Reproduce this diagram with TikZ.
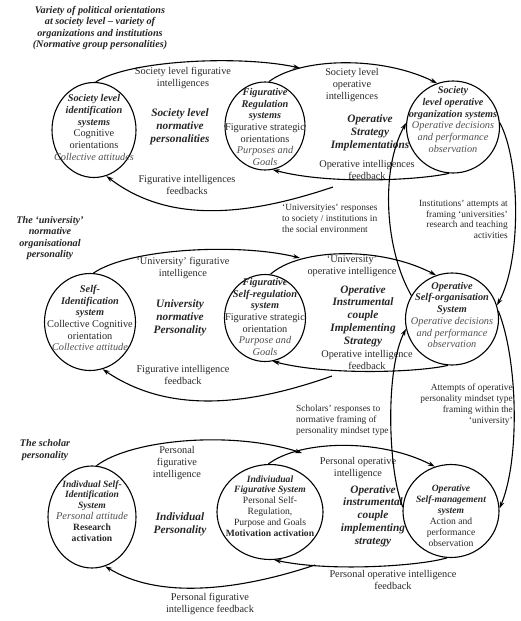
\documentclass[tikz,border=0pt]{standalone}
\usepackage{fontspec}
\setmainfont{Liberation Serif}
\usetikzlibrary{shapes.geometric,arrows.meta}
\definecolor{txt}{HTML}{282828}
\definecolor{lite}{HTML}{505050}
\newcommand\myBI[1]{{\bfseries\itshape #1}}
\newcommand\myLI[1]{{\itshape\color{lite}#1}}
\begin{document}
\begin{tikzpicture}[x=1pt,y=-1pt,
  ell/.style={draw,ellipse,line width=1.1pt,inner sep=0pt},
  conn/.style={line width=1.1pt,-{Stealth[length=7pt,width=4.5pt]}},
  lbl/.style={align=center,text=txt,font=\fontsize{10.3}{11.7}\selectfont,inner sep=0pt},
  small/.style={text=txt,font=\fontsize{9.4}{10.8}\selectfont,inner sep=0pt},
  ctext/.style={align=center,text=txt,font=\fontsize{10.3}{11.7}\selectfont,inner sep=0pt},
  ctexts/.style={align=center,text=txt,font=\fontsize{9.6}{10.9}\selectfont,inner sep=0pt},
  big/.style={align=center,text=black!85,font=\fontsize{11.3}{12.8}\selectfont\bfseries\itshape,inner sep=0pt},
  ttl/.style={align=center,text=black!85,font=\fontsize{10.2}{11.4}\selectfont\bfseries\itshape,inner sep=0pt}
]
\useasboundingbox (0,0) rectangle (520,621);
\fill[white] (0,0) rectangle (520,621);

% ---------- titles ----------
\node[ttl] (t1) at (100,28) {Variety of political orientations\\ at society level -- variety of\\ organizations and institutions\\ (Normative group personalities)};
\node[ttl] (t2) at (50,238) {The ‘university’\\ normative\\ organisational\\ personality};
\node[ttl] (t3) at (45,450) {The scholar\\ personality};

% ---------- ellipses ----------
\node[ell,minimum width=84pt,minimum height=95pt] (L1) at (94,130) {};
\node[ell,minimum width=80pt,minimum height=88pt] (M1) at (265,126) {};
\node[ell,minimum width=93pt,minimum height=92pt] (R1) at (453,127) {};
\node[ell,minimum width=91pt,minimum height=97pt] (L2) at (90,322) {};
\node[ell,minimum width=81pt,minimum height=87pt] (M2) at (265,318) {};
\node[ell,minimum width=93pt,minimum height=92pt] (R2) at (452,319) {};
\node[ell,minimum width=88pt,minimum height=102pt] (L3) at (92,517) {};
\node[ell,minimum width=106pt,minimum height=95pt] (M3) at (270,512) {};
\node[ell,minimum width=96pt,minimum height=93pt] (R3) at (451,511) {};

% ---------- ellipse texts ----------
\node[ctext] (L1t) at (94,127.5) {\myBI{Society level}\\ \myBI{identification}\\ \myBI{systems}\\ Cognitive\\ orientations\\ \myLI{Collective attitudes}};
\node[ctext] (M1t) at (265,127) {\myBI{Figurative}\\ \myBI{Regulation}\\ \myBI{systems}\\ Figurative strategic\\ orientations\\ \myLI{Purposes and}\\ \myLI{Goals}};
\node[ctext] (R1t) at (453,119.5) {\myBI{Society}\\ \myBI{level operative}\\ \myBI{organization systems}\\ \myLI{Operative decisions}\\ \myLI{and performance}\\ \myLI{observation}};
\node[ctext] (L2t) at (90,318) {\myBI{Self-}\\ \myBI{Identification}\\ \myBI{system}\\ Collective Cognitive\\ orientation\\ \myLI{Collective attitude}};
\node[ctext] (M2t) at (265,317) {\myBI{Figurative}\\ \myBI{Self-regulation}\\ \myBI{system}\\ Figurative strategic\\ orientation\\ \myLI{Purpose and}\\ \myLI{Goals}};
\node[ctext] (R2t) at (452,315) {\myBI{Operative}\\ \myBI{Self-organisation}\\ \myBI{System}\\ \myLI{Operative decisions}\\ \myLI{and performance}\\ \myLI{observation}};
\node[ctexts] (L3t) at (92,511) {\myBI{Indivdual Self-}\\ \myBI{Identification}\\ \myBI{System}\\ {\fontsize{10.4}{10.9}\selectfont\myLI{Personal attitude}}\\ \textbf{Research}\\ \textbf{activation}};
\node[ctexts] (M3t) at (270,506) {\myBI{Indiviudual}\\ \myBI{Figurative System}\\ Personal Self-\\ Regulation,\\ Purpose and Goals\\ \textbf{Motivation activation}};
\node[ctexts] (R3t) at (451,515.5) {\myBI{Operative}\\ \myBI{Self-management}\\ \myBI{system}\\ Action and\\ performance\\ observation};

% ---------- big middle labels ----------
\node[big] (b1) at (180,127) {Society level\\ normative\\ personalities};
\node[big] (b2) at (370,133) {Operative\\ Strategy\\ Implementations};
\node[big] (b3) at (180,318) {University\\ normative\\ Personality};
\node[big] (b4) at (363,316) {Operative\\ Instrumental\\ couple\\ Implementing\\ Strategy};
\node[big] (b5) at (180,524) {Individual\\ Personality};
\node[big] (b6) at (373,516) {Operative\\ instrumental\\ couple\\ implementing\\ strategy};

% ---------- connector labels ----------
\node[lbl] (a1) at (183,78) {Society level figurative\\ intelligences};
\node[lbl] (a2) at (352,85) {Society level\\ operative\\ intelligences};
\node[lbl] (a3) at (367,170) {Operative intelligences\\ feedback};
\node[lbl] (a4) at (187,185) {Figurative intelligences\\ feedbacks};
\node[lbl] (a5) at (183,268) {‘University’ figurative\\ intelligence};
\node[lbl] (a6) at (352,266) {‘University’\\ operative intelligence};
\node[lbl] (a7) at (367,360) {Operative intelligence\\ feedback};
\node[lbl] (a8) at (183,375) {Figurative intelligence\\ feedback};
\node[lbl] (a9) at (177,463) {Personal\\ figurative\\ intelligence};
\node[lbl] (a10) at (358,468) {Personal operative\\ intelligence};
\node[lbl] (a11) at (393,580) {Personal operative intelligence\\ feedback};
\node[lbl] (a12) at (210,604) {Personal figurative\\ intelligence feedback};

\node[small,anchor=west,align=left] (s1) at (282,218.5) {‘Universityies’ responses\\ to society / institutions in\\ the social environment};
\node[small,anchor=east,align=right] (s2) at (508,219.5) {Institutions’ attempts at\\ framing ‘universities’\\ research and teaching\\ activities};
\node[small,anchor=west,align=left] (s3) at (296,420) {Scholars’ responses to\\ normative framing of\\ personality mindset type};
\node[small,anchor=east,align=right] (s4) at (513,404.5) {Attempts of operative\\ personality mindset type\\ framing within the\\ ‘university’};

% ---------- junction coordinates ----------
\coordinate (j1) at (300,68);
\coordinate (f1) at (333,187);
\coordinate (j2) at (300,258);
\coordinate (f2) at (332,376);
\coordinate (j3) at (302,453);
\coordinate (f3) at (315,565);

% ---------- row 1 connectors ----------
\draw[conn] (L1.88) .. controls (130,60) and (240,55) .. (j1);
\draw[conn] (M1.85) .. controls (300,58) and (380,55) .. (R1.110);
\draw[conn] (R1.265) .. controls (420,180) and (330,185) .. (M1.280);
\draw[conn] (f1) .. controls (250,215) and (170,225) .. (L1.285);

% ---------- row 2 connectors ----------
\draw[conn] (L2.86) .. controls (130,248) and (240,243) .. (j2);
\draw[conn] (M2.83) .. controls (300,248) and (380,246) .. (R2.110);
\draw[conn] (R2.265) .. controls (420,372) and (330,376) .. (M2.280);
\draw[conn] (f2) .. controls (250,405) and (170,415) .. (L2.285);

% ---------- row 3 connectors ----------
\draw[conn] (L3.85) .. controls (130,440) and (230,430) .. (j3);
\draw[conn] (M3.92) .. controls (300,440) and (380,438) .. (R3.110);
\draw[conn] (R3.265) .. controls (420,566) and (330,572) .. (M3.275);
\draw[conn] (f3) .. controls (240,590) and (160,600) .. (L3.285);

% ---------- vertical connectors ----------
\draw[conn] (R1.5) .. controls (520,160) and (522,260) .. (R2.17);
\draw[conn] (R2.150) .. controls (385,250) and (380,170) .. (R1.175);
\draw[conn] (R3.175) .. controls (388,470) and (385,370) .. (R2.192);
\draw[conn] (R2.10) .. controls (518,360) and (520,460) .. (R3.3);
\end{tikzpicture}
\end{document}
